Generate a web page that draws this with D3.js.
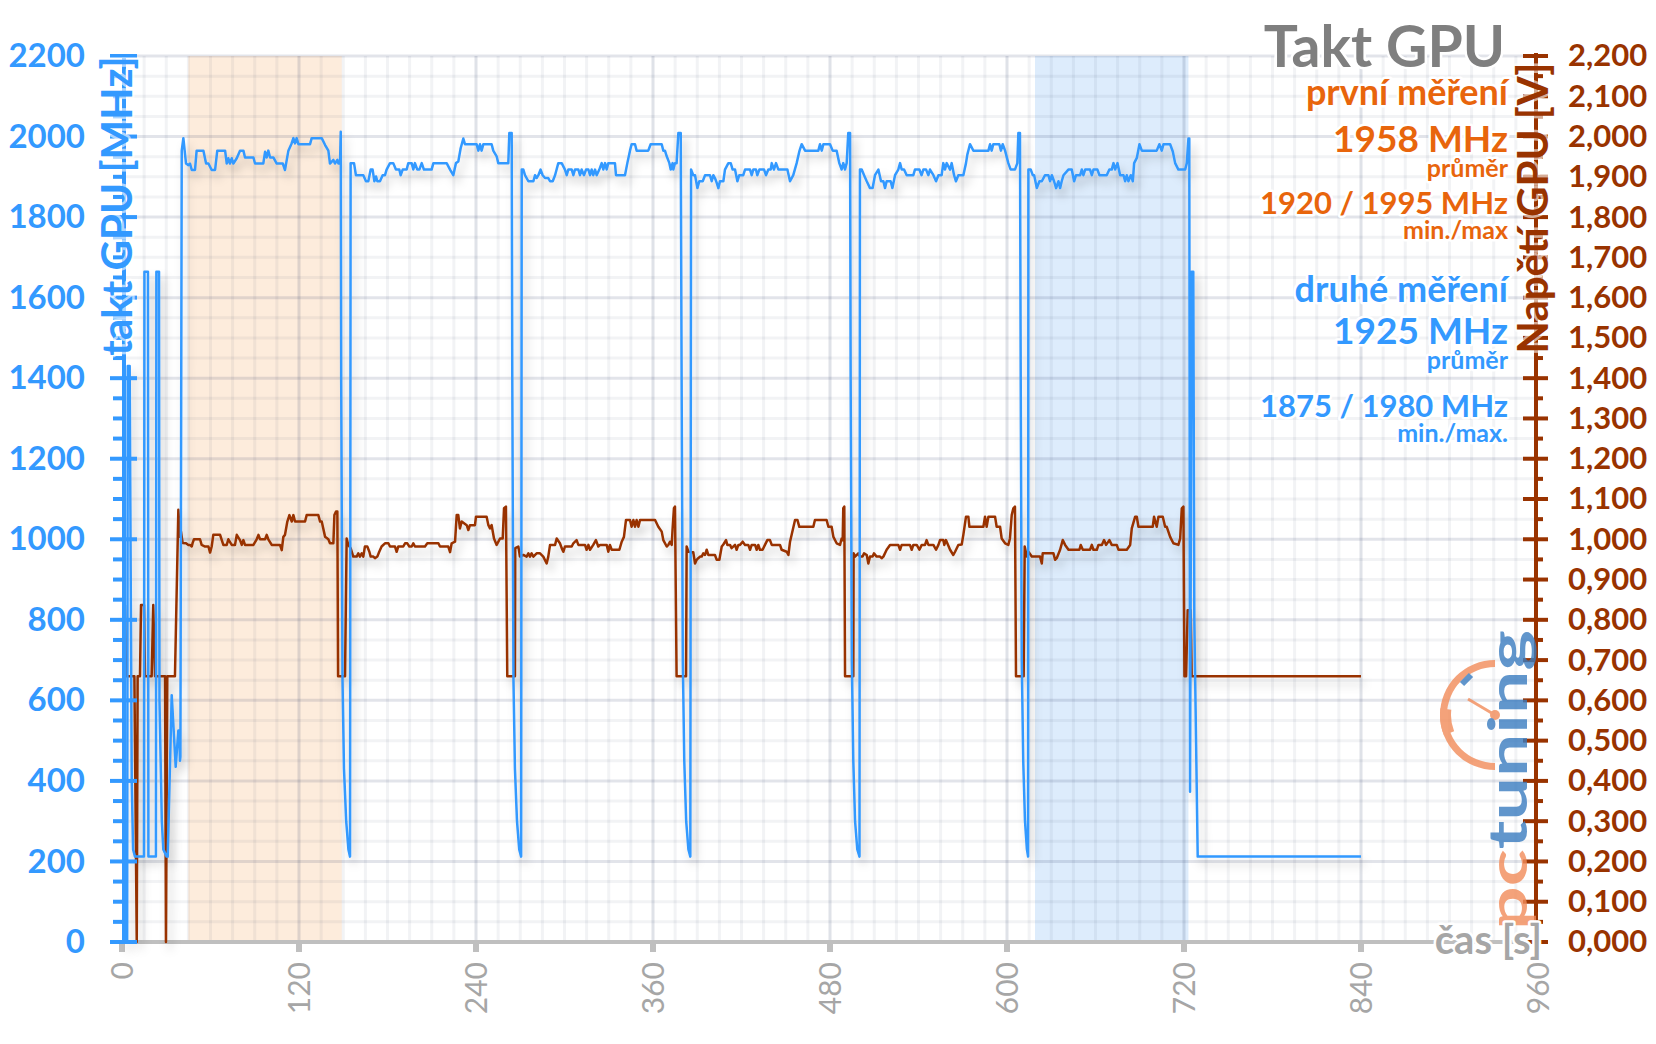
<!DOCTYPE html>
<html>
<head>
<meta charset="utf-8">
<script src="https://cdn.jsdelivr.net/npm/d3@7"></script>
<style>
  body { margin: 0; background: #fff; }
  svg { display: block; font-family: Lato, "Open Sans", sans-serif; }
</style>
</head>
<body>
<svg id="chart" width="1656" height="1044"></svg>
<script>
// takt GPU (MHz) over time (s)
var clockTime = [0,3.5,3.9,5.2,6.6,7.5,8.8,14.9,15.2,17.6,17.9,23,23.3,25.1,25.4,27,28,30.3,31,33.7,36.4,38.2,38.8,39.3,39.6,
  40.5,41.6,43.4,45,46.1,47.3,49.5,50.6,55.2,57,58.6,60.8,63.1,64.6,69.9,71,72.1,73.2,74.4,75.5,77.8,80,82.3,83.4,89.1,90.2,95.8,
  97,98.1,99.2,100.4,102.6,104.9,109,110.5,112.8,115,116.2,117.3,118.4,119.6,127.5,128.6,135.4,137.7,139.9,141,143.3,144.4,146,
  146.7,147.8,148.3,148.6,149.5,150.5,152,153.5,154.6,
  155,157.3,158.6,163.6,165.4,167,168.6,169.9,171.1,172.2,173.1,174.9,176.7,178.3,179.4,181.7,183.9,185.7,188,188.9,190.3,193,
  194.1,196.4,197.5,198.6,200.2,201.6,203.2,204.7,209.9,211.1,220.1,222.4,224.6,226.4,228,229.6,231.4,232.5,240.4,241.6,242.7,
  243.8,245,250.6,251.7,254,255.1,261.9,262.6,264.2,264.6,265.4,266.4,267.8,269.3,270.6,
  271,272.1,273.2,275.5,278.9,280,281.1,282.3,283.8,285.2,286.8,289,290.2,292,293.6,295.8,298.1,300.3,301.5,302.6,304.9,306,
  307.1,309.4,310.5,311.6,313.2,314.6,316.2,317.3,318.4,319.5,320.7,321.8,323.6,325.2,326.3,327.5,328.6,329.7,334.2,334.9,341,
  342.6,344.4,345.5,347.8,348.9,356.8,358.4,365.9,367,368.1,369.3,371.1,372,373.3,373.8,374.9,376,377.2,378.8,379.4,380.2,381.2,
  382.5,384,385.3,
  385.8,387.3,388.5,390.1,391.4,393.7,395.3,398.6,399.8,400.9,402,403.2,404.3,405.4,407.7,408.8,411.1,412.7,414,415.6,417.2,
  418.5,421.2,422.4,425.8,426.9,428,429.8,430.7,432.1,435.3,436.6,438.2,439.8,440.5,442,443.4,445,447.2,451.1,452.9,455.1,457.4,
  459.2,460.8,463.1,472.1,473.2,474.4,475.5,480,481.8,484.5,486.3,487.9,489,490.2,491.3,492.4,493.6,494,494.8,495.8,497,498.5,500,
  500.3,501.5,503.1,504.9,507.1,508.9,510.5,512.8,514.6,516.2,517.3,518.4,521.1,522.3,524.1,526.3,527.5,528.6,530.2,532,536.5,
  537.6,540.6,542.1,543.3,545.1,546.7,547.8,550.1,551.9,553.5,555.7,556.8,558,559.1,561.4,562.5,564.1,565.4,567,570.4,572.2,
  573.1,574.9,577.2,587.4,588.5,589.6,590.7,594.8,595.9,597.1,598.7,600.9,602.5,605.4,607,607.7,608.8,609.3,610,611,612.2,613.5,614.3,
  614.5,616.1,617.5,618.4,620.2,622,623.6,625.8,628.1,629.2,630.4,631.9,633.3,634.9,636,637.1,638.3,641.6,643.9,645.5,646.8,
  649.6,650.7,651.8,653,656.3,657.5,658.6,661.3,662.7,667.6,669.4,671,672.2,673.3,674.9,676.7,679,680.1,681.2,682.3,683.9,685.3,
  686.2,688,689.8,691.4,701.5,703.3,704.9,706.1,710.6,712.4,714,716.2,720.8,721.9,723,723.6,724.1,725.2,726.3,727,729.3,840];
var clockMHz = [0,0,1430,1430,400,230,212,212,1664,1664,212,212,1664,1664,600,300,230,212,212,613,435,525,525,450,460,
  1965,1996,1933,1929,1933,1917,1917,1965,1965,1933,1933,1917,1917,1965,1965,1933,1946,1933,1946,1933,1946,1965,1965,1948,1948,1933,1933,
  1962,1948,1965,1948,1948,1933,1933,1917,1965,1983,1996,1983,1996,1981,1981,1996,1996,1979,1965,1933,1942,1933,1942,
  1933,1933,2012,1400,650,430,300,230,212,
  1934,1934,1904,1904,1889,1889,1918,1918,1889,1901,1889,1889,1904,1904,1918,1934,1934,1918,1918,1904,1918,1918,
  1934,1934,1918,1934,1918,1918,1934,1918,1918,1934,1934,1918,1904,1934,1938,1971,1995,1981,1981,1965,1981,
  1965,1981,1981,1965,1951,1934,1934,2009,2009,1400,650,430,300,230,212,
  1918,1918,1904,1889,1889,1904,1897,1904,1918,1904,1897,1897,1889,1889,1904,1934,1934,1918,1904,1918,1918,1904,
  1918,1918,1904,1918,1904,1918,1918,1904,1918,1904,1918,1904,1918,1934,1918,1934,1918,1934,1934,1904,1904,
  1934,1965,1981,1981,1965,1965,1981,1981,1965,1965,1951,1934,1918,1934,1918,1934,1934,2009,2009,1400,700,450,
  300,230,212,
  1918,1904,1904,1872,1889,1889,1904,1904,1889,1904,1897,1885,1872,1889,1889,1918,1934,1934,1918,1918,1889,
  1904,1904,1918,1918,1904,1918,1918,1904,1918,1918,1904,1918,1918,1934,1918,1934,1918,1918,1918,1889,1904,1934,
  1963,1981,1965,1965,1981,1965,1981,1981,1965,1965,1934,1918,1934,1918,1934,2009,2009,1400,700,450,300,230,212,
  1918,1918,1904,1889,1872,1872,1904,1918,1889,1889,1872,1889,1889,1872,1904,1918,1934,1918,1918,1904,1904,
  1918,1918,1904,1918,1918,1904,1918,1904,1889,1904,1904,1934,1918,1934,1918,1934,1904,1889,1904,1904,1934,
  1955,1981,1965,1965,1981,1965,1981,1981,1965,1981,1965,1934,1918,1918,1934,2009,2009,1400,700,450,300,230,212,
  1918,1918,1904,1904,1872,1889,1889,1904,1904,1889,1904,1889,1872,1889,1872,1889,1904,1918,1918,1889,1904,
  1904,1918,1904,1918,1918,1904,1918,1918,1904,1904,1918,1918,1934,1918,1934,1904,1904,1889,1904,1889,1904,1889,
  1934,1947,1981,1965,1965,1981,1965,1981,1981,1963,1934,1918,1918,1934,1995,1995,373,1664,1664,800,212,212];

// napětí GPU (V) over time (s)
var voltTime = [2,2.7,8.4,10,10.6,12.2,12.9,14.9,15.6,20.1,21.2,22.4,29.2,29.8,30.7,35.9,38.2,39.3,40,41.1,43.4,45,46.1,47.3,
  47.9,48.8,52.9,54,56.3,58.6,59.7,60.8,61.9,66.5,68.7,71,72.1,74.4,76.6,77.8,80,81.2,82.3,83.4,89.1,91.3,92.5,93.6,97,98.1,99.2,
  101.5,107.1,108.3,109.4,110.5,112.1,113.5,115.1,116.2,117.3,124.1,125.2,133.1,134.3,135.4,137.7,139.9,141,143.3,144,145.1,146,
  146.5,151.2,
  152.3,153.4,155,156.8,159.1,160.2,161.3,162.5,163.6,164.7,166.3,167.7,168.6,170.4,171.5,173.1,174.4,176,178.3,180.6,181.7,185.1,
  186.2,187.3,190.7,191.9,193.4,194.8,196.4,197.5,198.6,205.4,207,214.5,215.6,221.2,222.4,223.5,225.8,226.9,228,229.1,230.3,233.7,
  234.8,235.9,239.3,240,247.2,248.4,249.5,250.6,252.2,254,256.3,258.1,259,260.3,261.2,266.4,
  266.6,268.7,269.8,272.1,274.3,275.5,276.6,277.7,278.9,281.1,283.4,285.6,287.9,289,290.2,293.6,294.7,296.9,298.1,299.2,300.3,
  304.9,306,308.2,309.4,313.9,315,316.2,317.3,319.5,321.3,322.9,324.1,328.6,329.7,330.8,332,333.6,337.2,338.8,340.3,341.7,344.4,
  345.5,346.7,347.8,348.9,350.1,351.2,361.4,363.6,365.9,367,369.3,370.4,371.5,372.7,373.3,374.2,374.9,376,382.4,
  382.8,384,386.2,387.3,388.5,389.6,390.7,391.9,393,394.1,395.3,396.4,397.5,402,403.2,405,406.6,407.7,409.5,410.4,412.2,413.3,
  415.6,416.7,417.9,419,420.8,422.4,424.6,425.8,426.9,429.2,430.3,431.4,432.5,434.3,435.9,437.5,439.3,440.5,445,446.1,447.2,450.6,
  451.8,452.9,456.3,457.9,459.2,468.7,469.8,477.7,478.9,481.1,482.3,484.5,486.8,487.9,488.6,489,489.7,490.2,495.8,
  496,497,499.2,500.3,502.1,503.1,504.9,506,507.1,508.9,509.8,511.6,513.9,515,516.2,518.4,520.7,526.3,527.5,528.6,534.2,535.4,
  536.5,538.8,540.6,542.2,544.4,545.5,546.7,550.1,551.9,553.5,554.6,556.8,557.5,558.6,561.4,563.6,564.8,567,569.3,570.4,572.2,
  573.8,574.5,584,585.1,586.2,587.4,591.9,593,595.3,596.4,598.7,600.9,602,603.2,604.3,605.4,606.1,611.3,
  612,613.4,614.5,616.8,622.4,623.6,624.2,631.5,632.6,633.7,636,637.8,639.4,641.7,649.1,650,651.4,656.3,657.5,658.6,660.9,662,
  664.3,665.8,667.2,669.4,671,674.4,675.6,681.2,683.5,684.6,686.9,688,689.1,698.8,699.7,701.5,702.7,705.6,707.2,708.3,710.6,712.8,
  716.2,717.4,718.5,719.6,720.3,721.4,722.5,724.5,725.2,840];
var voltV = [0.837,0.66,0.66,0,0.66,0.66,0.837,0.837,0.66,0.66,0.837,0.66,0.66,0,0.66,0.66,1.073,1.006,1.019,0.991,0.99,0.986,0.986,0.982,
  0.991,1,1,0.986,0.982,0.982,0.967,0.982,1.011,1.011,0.986,0.986,1,0.986,0.986,1.011,0.998,0.986,0.998,0.986,0.986,1,1.011,1,1,1.011,1,
  0.986,0.986,0.973,1.006,1.011,1.044,1.06,1.044,1.06,1.044,1.044,1.06,1.06,1.044,1.044,1.006,1,0.99,0.99,1.06,1.069,1.069,
  0.66,0.66,
  1.002,0.986,0.978,0.957,0.957,0.965,0.957,0.965,0.957,0.982,0.982,0.969,0.957,0.957,0.953,0.957,0.969,0.982,0.99,0.99,0.982,0.982,
  0.969,0.982,0.982,0.99,0.99,0.982,0.982,0.99,0.982,0.982,0.99,0.99,0.982,0.982,0.968,0.99,0.994,1.06,1.06,1.027,1.044,1.035,
  1.023,1.035,1.035,1.056,1.056,1.035,1.027,1.035,1.002,0.986,1.002,1.002,1.077,1.081,0.66,0.66,
  0.978,0.982,0.957,0.961,0.957,0.965,0.957,0.965,0.957,0.965,0.965,0.957,0.94,0.957,0.986,0.986,1.002,0.99,0.978,0.969,0.982,
  0.982,0.99,0.998,0.986,0.986,0.974,0.986,0.974,0.986,0.998,0.982,0.986,0.986,0.969,0.986,0.974,0.974,0.974,0.994,1.006,1.048,1.048,
  1.031,1.048,1.031,1.048,1.031,1.048,1.048,1.031,1.019,0.998,0.982,0.986,0.994,0.986,1.027,1.077,1.081,0.66,0.66,
  0.982,0.969,0.968,0.968,0.94,0.949,0.953,0.957,0.957,0.965,0.961,0.974,0.961,0.961,0.949,0.949,0.982,0.987,0.998,0.986,0.986,0.978,
  0.986,0.974,0.986,0.986,0.994,0.986,0.986,0.974,0.986,0.986,0.974,0.986,0.974,0.974,0.986,0.998,0.998,0.986,0.986,0.986,0.974,0.969,
  0.961,0.994,1.048,1.048,1.031,1.031,1.048,1.048,1.031,1.031,1.006,0.99,0.986,1.002,0.998,1.077,1.081,0.66,0.66,
  0.965,0.957,0.965,0.957,0.957,0.965,0.961,0.94,0.957,0.957,0.965,0.957,0.957,0.953,0.957,0.974,0.986,0.986,0.974,0.986,0.986,0.974,
  0.986,0.986,0.974,0.986,0.986,0.998,0.986,0.986,0.974,0.986,0.998,0.998,0.986,0.998,0.974,0.961,0.969,0.986,0.987,1.011,1.056,
  1.056,1.031,1.031,1.056,1.031,1.056,1.056,1.031,1.031,1.002,0.99,0.986,1.002,1.06,1.077,1.081,0.66,0.66,
  0.982,0.957,0.969,0.957,0.957,0.94,0.965,0.965,0.949,0.953,0.974,0.998,0.986,0.974,0.974,0.986,0.974,0.974,0.986,0.974,0.974,0.986,
  0.986,0.998,0.986,0.998,0.986,0.986,0.974,0.974,0.986,1.027,1.056,1.056,1.031,1.031,1.056,1.031,1.056,1.056,1.031,1.031,1.006,0.99,
  0.986,1.002,1.077,1.081,0.66,0.66,0.824,0.824,0.66,0.66];

var highlightRanges = [[45, 149], [619, 723]];
var timeTicks = [0, 120, 240, 360, 480, 600, 720, 840, 960];
var mhzTicks = [0, 200, 400, 600, 800, 1000, 1200, 1400, 1600, 1800, 2000, 2200];
var voltTicks = [0, 0.1, 0.2, 0.3, 0.4, 0.5, 0.6, 0.7, 0.8, 0.9, 1.0, 1.1, 1.2, 1.3, 1.4, 1.5, 1.6, 1.7, 1.8, 1.9, 2.0, 2.1, 2.2];

var chartTitle = "Takt GPU";
var firstLabels = ["první měření", "1958 MHz", "průměr", "1920 / 1995 MHz", "min./max"];
var secondLabels = ["druhé měření", "1925 MHz", "průměr", "1875 / 1980 MHz", "min./max."];

var blue = "#3399ff", brown = "#993300", orange = "#e8650c", grey = "#7f7f7f";

var svg = d3.select("#chart");
var x = d3.scaleLinear().domain([0, 960]).range([122, 1538]);
var y = d3.scaleLinear().domain([0, 2200]).range([942, 56]);
var yv = d3.scaleLinear().domain([0, 2.2]).range([942, 56]);

var defs = svg.append("defs");
defs.append("filter").attr("id", "shadow")
    .attr("x", "-5%").attr("y", "-5%").attr("width", "115%").attr("height", "130%")
  .append("feDropShadow")
    .attr("dx", 4).attr("dy", 7).attr("stdDeviation", 5)
    .attr("flood-color", "#000").attr("flood-opacity", 0.2);

svg.append("rect").attr("width", 1656).attr("height", 1044).attr("fill", "#fff");

// highlighted bands
svg.selectAll(".band").data(highlightRanges).enter().append("rect")
    .attr("x", function(d) { return x(d[0]); })
    .attr("y", y(2200))
    .attr("width", function(d) { return x(d[1]) - x(d[0]); })
    .attr("height", y(0) - y(2200))
    .attr("fill", function(d, i) { return i == 0 ? "#fdecdc" : "#ddecfc"; });

// grid
var grid = svg.append("g");
grid.selectAll(".gx").data(d3.range(15, 960, 15)).enter().append("line")
    .attr("x1", d => x(d)).attr("x2", d => x(d))
    .attr("y1", y(2200)).attr("y2", y(0))
    .attr("stroke", d => d % 120 == 0 ? "rgba(30,50,90,0.14)" : "rgba(30,50,90,0.06)")
    .attr("stroke-width", 3);
grid.selectAll(".gy").data(d3.range(50, 2201, 50)).enter().append("line")
    .attr("x1", x(0)).attr("x2", x(960))
    .attr("y1", d => y(d)).attr("y2", d => y(d))
    .attr("stroke", d => d % 200 == 0 ? "rgba(30,50,90,0.13)" : "rgba(30,50,90,0.06)")
    .attr("stroke-width", 3);

// x axis
svg.append("line").attr("x1", x(0) - 2).attr("x2", x(960)).attr("y1", y(0)).attr("y2", y(0))
    .attr("stroke", "#bfbfbf").attr("stroke-width", 4);
svg.selectAll(".xt").data(timeTicks).enter().append("rect")
    .attr("x", d => x(d) - 3).attr("y", y(0)).attr("width", 6).attr("height", 10)
    .attr("fill", "#bfbfbf");
svg.selectAll(".xl").data(timeTicks).enter().append("text")
    .attr("transform", d => "translate(" + x(d) + ",962) rotate(-90)")
    .attr("text-anchor", "end").attr("dy", "0.36em")
    .attr("font-size", 30).attr("fill", "#a6a6a6")
    .text(d => d);

// lines
var clockLine = d3.line().x(function(d, i) { return x(clockTime[i]); }).y(function(d) { return y(d); });
var voltLine = d3.line().x(function(d, i) { return x(voltTime[i]); }).y(function(d) { return yv(d); });

svg.append("path").datum(voltV).attr("d", voltLine)
    .attr("fill", "none").attr("stroke", brown).attr("stroke-width", 2.5)
    .attr("stroke-linejoin", "round").attr("filter", "url(#shadow)");
svg.append("path").datum(clockMHz).attr("d", clockLine)
    .attr("fill", "none").attr("stroke", blue).attr("stroke-width", 2.5)
    .attr("stroke-linejoin", "round").attr("filter", "url(#shadow)");

// left axis
var left = svg.append("g");
left.append("line").attr("x1", 124).attr("x2", 124).attr("y1", y(2200) - 2).attr("y2", y(0) + 2)
    .attr("stroke", blue).attr("stroke-width", 4);
left.selectAll(".lt").data(d3.range(0, 2201, 50)).enter().append("line")
    .attr("x1", d => d % 200 == 0 ? 110 : 113).attr("x2", d => d % 200 == 0 ? 137 : 124)
    .attr("y1", d => y(d)).attr("y2", d => y(d))
    .attr("stroke", blue).attr("stroke-width", 4);
svg.append("g").attr("transform", "translate(124,0)")
    .call(d3.axisLeft(y).tickValues(mhzTicks).tickSize(0).tickPadding(39).tickFormat(d => String(d)))
    .call(g => g.select(".domain").remove())
    .selectAll("text").attr("font-size", 33).attr("font-weight", "bold")
    .attr("fill", blue).attr("font-family", "Lato, sans-serif");

// right axis
var right = svg.append("g");
right.append("line").attr("x1", 1536).attr("x2", 1536).attr("y1", yv(2.2) - 3).attr("y2", yv(0) + 2)
    .attr("stroke", brown).attr("stroke-width", 4);
right.selectAll(".rt").data(d3.range(0, 45)).enter().append("line")
    .attr("x1", d => d % 2 == 0 ? 1523 : 1536).attr("x2", d => d % 2 == 0 ? 1548 : 1543)
    .attr("y1", d => yv(d * 0.05)).attr("y2", d => yv(d * 0.05))
    .attr("stroke", brown).attr("stroke-width", 4);
svg.append("g").attr("transform", "translate(1536,0)")
    .call(d3.axisRight(yv).tickValues(voltTicks).tickSize(0).tickPadding(32)
      .tickFormat(d => d3.format(".3f")(d).replace(".", ",")))
    .call(g => g.select(".domain").remove())
    .selectAll("text").attr("font-size", 31).attr("font-weight", "bold")
    .attr("fill", brown).attr("font-family", "Lato, sans-serif");

// logo watermark
var logo = svg.append("g").attr("opacity", 0.8);
logo.append("path")
    .attr("transform", "translate(1495,715)")
    .attr("d", d3.arc().innerRadius(48).outerRadius(55).startAngle(-Math.PI).endAngle(0)())
    .attr("fill", "#f28c5a");
logo.append("path")
    .attr("transform", "translate(1495,715)")
    .attr("d", d3.arc().innerRadius(44).outerRadius(55).startAngle(-1.95).endAngle(-1.45)())
    .attr("fill", "#f28c5a");
logo.append("line").attr("x1", 1495).attr("y1", 715).attr("x2", 1468).attr("y2", 699)
    .attr("stroke", "#f28c5a").attr("stroke-width", 3);
logo.append("circle").attr("cx", 1495).attr("cy", 715).attr("r", 5).attr("fill", "#f28c5a");
logo.append("line").attr("x1", 1462).attr("y1", 684).attr("x2", 1471).attr("y2", 675)
    .attr("stroke", "#3a7cc0").attr("stroke-width", 6);
var lt = logo.append("text")
    .attr("transform", "translate(1527,930) rotate(-90)")
    .attr("font-size", 54).attr("font-weight", "bold").attr("font-family", "Lato, sans-serif")
    .attr("textLength", 300).attr("lengthAdjust", "spacingAndGlyphs");
lt.append("tspan").attr("fill", "#f28c5a").text("pc");
lt.append("tspan").attr("fill", "#3a7cc0").text("tuning");

// axis titles
function halo(sel) {
  return sel.attr("stroke", "#fff").attr("stroke-width", 5).attr("stroke-linejoin", "round")
    .attr("paint-order", "stroke");
}
halo(svg.append("text")
    .attr("transform", "translate(132,206) rotate(-90)")
    .attr("text-anchor", "middle").attr("font-size", 42).attr("font-weight", "bold")
    .attr("fill", blue).attr("stroke-opacity", 0.6).text("takt GPU [MHz]"));
halo(svg.append("text")
    .attr("transform", "translate(1548,208) rotate(-90)")
    .attr("text-anchor", "middle").attr("font-size", 42).attr("font-weight", "bold")
    .attr("fill", brown).attr("stroke-opacity", 0.6).text("Napětí GPU [V]"));
halo(svg.append("text").attr("x", 1542).attr("y", 954).attr("text-anchor", "end")
    .attr("font-size", 40).attr("font-weight", "bold").attr("fill", "#a6a6a6").text("čas [s]"));

// title and stats
halo(svg.append("text").attr("x", 1505).attr("y", 67).attr("text-anchor", "end")
    .attr("font-size", 57).attr("font-weight", "bold").attr("fill", grey).text(chartTitle));

var statSizes = [36, 37, 25, 31, 25];
var firstBase = [105, 152, 177, 214, 239];
var secondBase = [302, 344, 369, 417, 442];
firstLabels.forEach(function(t, i) {
  halo(svg.append("text").attr("x", 1508).attr("y", firstBase[i]).attr("text-anchor", "end")
      .attr("font-size", statSizes[i]).attr("font-weight", "bold").attr("fill", orange).text(t));
});
secondLabels.forEach(function(t, i) {
  halo(svg.append("text").attr("x", 1508).attr("y", secondBase[i]).attr("text-anchor", "end")
      .attr("font-size", statSizes[i]).attr("font-weight", "bold").attr("fill", blue).text(t));
});
</script>
</body>
</html>
